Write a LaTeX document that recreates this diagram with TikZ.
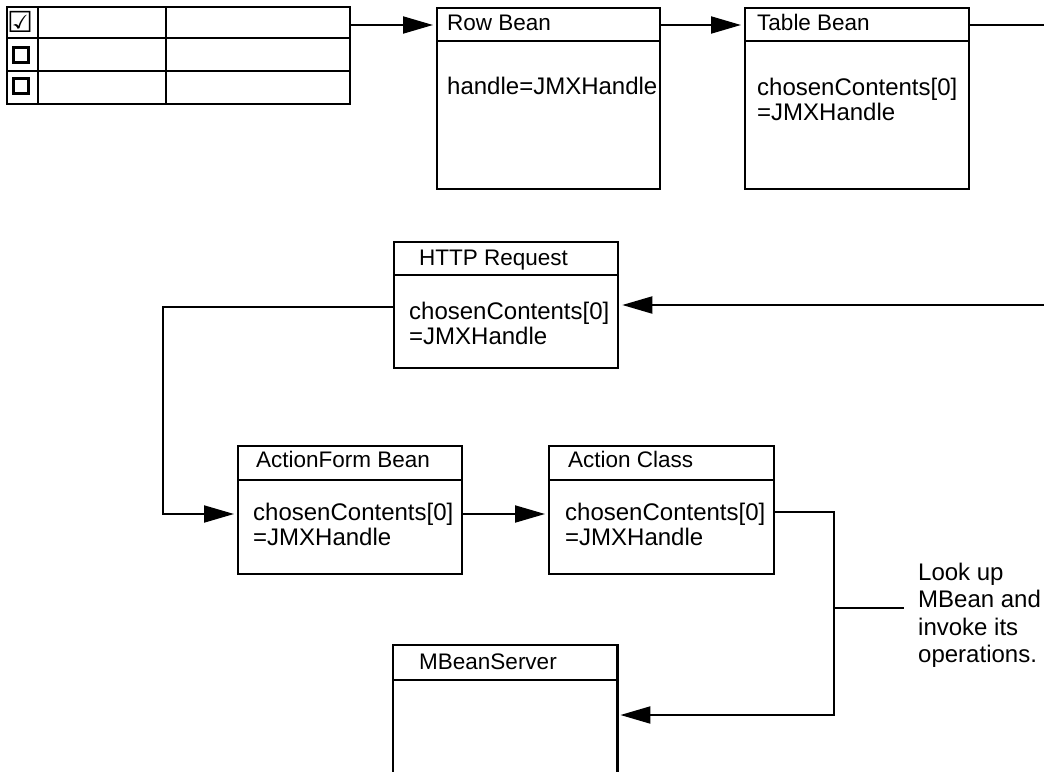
\documentclass[tikz,border=0pt]{standalone}
\usepackage{fontspec}
\setmainfont{Liberation Sans}
\newfontfamily\dejavu{DejaVu Sans}
\usetikzlibrary{arrows.meta}
\tikzset{
  x=1pt, y=-1pt,
  boxline/.style={draw, line width=2.3pt},
  conn/.style={line width=2pt},
  arr/.style={conn, -{Triangle[length=30pt,width=17pt]}, shorten >=3pt},
  hdr/.style={anchor=base west, inner sep=0pt, font=\fontsize{22.5}{25}\selectfont},
  body/.style={anchor=base west, inner sep=0pt, font=\fontsize{24}{25}\selectfont},
  lbl/.style={anchor=base west, inner sep=0pt, font=\fontsize{24}{27.5}\selectfont}
}
\begin{document}
\begin{tikzpicture}
\useasboundingbox (0,0) rectangle (1044,771);
% table
\node[boxline, line width=2.4pt, minimum width=343pt, minimum height=97pt, inner sep=0pt, anchor=north west] (tbl) at (6,6) {};
\draw[line width=2.4pt] (6,38) -- (349,38) (6,71) -- (349,71) (38,6) -- (38,103) (166,6) -- (166,103);
\node[inner sep=0pt, font=\dejavu\fontsize{29}{29}\selectfont] (cb1) at (20.5,22) {☑};
\draw[line width=2.8pt] (13.5,47.5) rectangle (28.5,62.5);
\draw[line width=2.8pt] (13.5,78.5) rectangle (28.5,93.5);

% boxes
\node[boxline, minimum width=223pt, minimum height=181pt, inner sep=0pt, anchor=north west] (rb) at (436,7) {};
\draw[line width=2.3pt] (436,41) -- (659,41);
\node[hdr] (rbh) at (447,30) {Row Bean};
\node[body] (rbb) at (447,94) {handle=JMXHandle};

\node[boxline, minimum width=224pt, minimum height=181pt, inner sep=0pt, anchor=north west] (tb) at (744,7) {};
\draw[line width=2.3pt] (744,41) -- (968,41);
\node[hdr] (tbh) at (757,30) {Table Bean};
\node[body] (tbb1) at (757,95) {chosenContents[0]};
\node[body] (tbb2) at (757,120) {=JMXHandle};

\node[boxline, minimum width=224pt, minimum height=126pt, inner sep=0pt, anchor=north west] (hr) at (393,241) {};
\draw[line width=2.3pt] (393,275) -- (617,275);
\node[hdr] (hrh) at (419,265) {HTTP Request};
\node[body] (hrb1) at (409,319) {chosenContents[0]};
\node[body] (hrb2) at (409,344) {=JMXHandle};

\node[boxline, minimum width=224pt, minimum height=128pt, inner sep=0pt, anchor=north west] (af) at (237,445) {};
\draw[line width=2.3pt] (237,480) -- (461,480);
\node[hdr] (afh) at (256,467) {ActionForm Bean};
\node[body] (afb1) at (253,520) {chosenContents[0]};
\node[body] (afb2) at (253,545) {=JMXHandle};

\node[boxline, minimum width=225pt, minimum height=128pt, inner sep=0pt, anchor=north west] (ac) at (548,445) {};
\draw[line width=2.3pt] (548,480) -- (773,480);
\node[hdr] (ach) at (568,467) {Action Class};
\node[body] (acb1) at (565,520) {chosenContents[0]};
\node[body] (acb2) at (565,545) {=JMXHandle};

% MBeanServer (open at bottom)
\node[inner sep=0pt, minimum width=224pt, minimum height=127pt, anchor=north west] (ms) at (393,645) {};
\draw[line width=2.3pt] (ms.south west) -- (ms.north west) -- (ms.north east) -- (ms.south east);
\draw[line width=2.3pt] (393,680) -- (617,680);
\node[hdr] (msh) at (419,669) {MBeanServer};

% connectors
\coordinate (e1) at (1044,25);
\coordinate (e2) at (1044,305);
\coordinate (c1) at (163,307);
\coordinate (c2) at (834,512);
\draw[arr] (tbl.east |- 0,25) -- (rb.west |- 0,25);
\draw[arr] (rb.east |- 0,25) -- (tb.west |- 0,25);
\draw[conn] (tb.east |- 0,25) -- (e1);
\draw[arr] (e2) -- (hr.east |- e2);
\draw[arr] (hr.west |- c1) -- (c1) -- (c1 |- 0,514) -- (af.west |- 0,514);
\draw[arr] (af.east |- 0,514) -- (ac.west |- 0,514);
\draw[arr] (ac.east |- c2) -- (c2) -- (c2 |- 0,715) -- (ms.east |- 0,715);

% label
\coordinate (lj) at (834,608);
\draw[conn] (lj) -- (904,608);
\node[lbl] (l1) at (918,580) {Look up};
\node[lbl] (l2) at (918,607.5) {MBean and};
\node[lbl] (l3) at (918,635) {invoke its};
\node[lbl] (l4) at (918,662.5) {operations.};
\end{tikzpicture}
\end{document}
